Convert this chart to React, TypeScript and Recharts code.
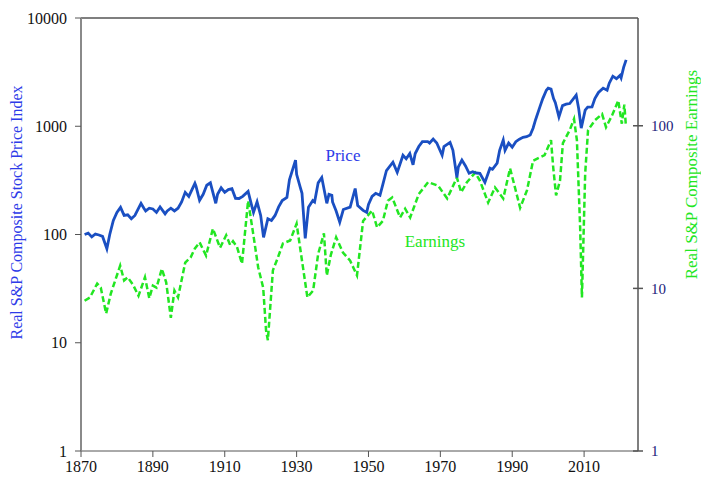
import React from "react";
import { LineChart, Line, XAxis, YAxis, ReferenceLine, ReferenceDot } from "recharts";

// Real S&P composite price index (left axis, log)
const priceYears = [
  1871, 1872, 1873, 1874, 1875, 1876, 1877.2, 1878, 1879, 1880, 1881, 1882, 1883, 1884, 1885, 1886.7, 1887.5, 1888, 1889, 1890,
  1891, 1892, 1893.4, 1894, 1895, 1896, 1897, 1898, 1899, 1900, 1901.7, 1902, 1903, 1904, 1905, 1906, 1907.5, 1908, 1909, 1910,
  1911, 1912, 1913, 1914, 1915, 1916.5, 1917.5, 1918, 1919, 1920, 1920.8, 1922, 1923, 1924, 1925, 1926, 1927.3, 1928, 1929.7, 1930,
  1931, 1931.5, 1932.4, 1933.3, 1934.5, 1935, 1936, 1937, 1938.4, 1939, 1939.8, 1940, 1941, 1942, 1943, 1944.9, 1946.3, 1947, 1948.5, 1949.5,
  1950, 1951, 1952, 1953.2, 1954, 1955, 1956.8, 1958, 1959.6, 1960.5, 1961.5, 1962.4, 1963, 1964, 1965, 1966.5, 1967, 1968, 1969, 1970.5,
  1971, 1972.7, 1973.5, 1974.6, 1975, 1976, 1977, 1978, 1979, 1980, 1981, 1982.4, 1983.8, 1984.5, 1985.8, 1986.5, 1987.5, 1988, 1989, 1990,
  1991, 1992, 1993, 1994, 1995, 1995.8, 1996.5, 1997.7, 1998.5, 1999.5, 2000, 2000.8, 2001.5, 2002, 2003, 2004, 2005, 2006, 2007.8, 2008.5,
  2009.2, 2010.3, 2011, 2012.2, 2013, 2014, 2015.3, 2016.4, 2017, 2018, 2019, 2020, 2020.3, 2021, 2021.7,
];
const priceValues = [
  100, 103, 95, 101, 99, 96, 74, 100, 135, 160, 178, 150, 152, 140, 150, 194, 175, 165, 175, 172,
  160, 180, 155, 165, 175, 165, 175, 200, 245, 225, 297, 280, 207, 235, 285, 300, 194, 235, 270, 245,
  260, 265, 216, 215, 225, 250, 185, 160, 200, 150, 94, 140, 135, 150, 180, 206, 220, 320, 487, 360,
  274, 240, 92, 179, 206, 200, 300, 336, 194, 235, 230, 200, 165, 130, 170, 179, 266, 185, 167, 160,
  190, 225, 240, 230, 290, 390, 465, 375, 540, 500, 560, 440, 560, 650, 720, 720, 700, 760, 700, 540,
  650, 710, 600, 336, 420, 487, 430, 368, 380, 370, 368, 303, 410, 400, 457, 600, 745, 600, 700, 640,
  720, 760, 790, 800, 830, 960, 1150, 1510, 1800, 2150, 2250, 2200, 1800, 1650, 1220, 1550, 1600, 1620, 1940, 1450,
  960, 1410, 1500, 1510, 1800, 2050, 2250, 2150, 2500, 2900, 2750, 2950, 2800, 3500, 4100,
];

// Real S&P composite earnings (right axis, log)
const earningsYears = [
  1871, 1872.5, 1874.5, 1875.5, 1877, 1878.3, 1880.9, 1882, 1883, 1884.5, 1886, 1887.8, 1889, 1890, 1891, 1892.5, 1893.7, 1895, 1896, 1897,
  1899, 1900.5, 1901.7, 1903, 1904.8, 1906.7, 1908.7, 1910.4, 1911.5, 1912.3, 1913.4, 1914.8, 1916.5, 1917.9, 1919.3, 1920.7, 1921.5, 1922, 1923.4, 1924.8,
  1926.2, 1928.2, 1930, 1931.5, 1933, 1934.6, 1936, 1937.6, 1938.4, 1939.5, 1941, 1942.9, 1944.9, 1946.8, 1948.5, 1951, 1952.4, 1954, 1955.4, 1956.6,
  1958.8, 1960.2, 1961.6, 1964, 1966.6, 1969.4, 1971.9, 1974.6, 1975.8, 1977.4, 1979.7, 1981, 1983.3, 1985.2, 1987.5, 1989.4, 1992.2, 1994.1, 1995.8, 1997.7,
  1999, 2000.8, 2001.4, 2002.2, 2003.3, 2004.1, 2006, 2007.2, 2008, 2008.9, 2009.4, 2010.3, 2011.1, 2013, 2015, 2016.1, 2017.8, 2019.5, 2020.5, 2021.2,
  2021.6,
];
const earningsValues = [
  8.4, 8.8, 10.7, 10.1, 7.0, 9.3, 13.8, 11.2, 11.7, 10.5, 9.0, 11.7, 8.7, 10.4, 10.1, 13.2, 10.9, 6.6, 9.7, 8.8,
  14.4, 15.5, 17.6, 19.2, 15.9, 23.3, 17.8, 21.2, 18.5, 19.5, 18, 14.2, 34.6, 21.8, 13.5, 10.1, 5.5, 4.8, 12.9, 15.5,
  18.9, 19.7, 25, 14.8, 8.8, 9.7, 16.3, 21.8, 12.0, 16, 20.6, 16.6, 14.8, 12.0, 26, 30.1, 23.7, 26, 34.6, 36.2,
  27.3, 30.9, 27.3, 38, 45, 42.8, 35.7, 48, 39, 45, 51.5, 46, 33.7, 41.7, 35.7, 54.7, 31.3, 40, 61, 64,
  66, 81.5, 55.6, 37.3, 46, 78.2, 94, 110, 81.5, 23.7, 8.8, 50.7, 94, 108, 118, 98, 116, 143, 103, 135,
  102,
];

const yearTicks = [1870, 1890, 1910, 1930, 1950, 1970, 1990, 2010];
const priceTicks = [1, 10, 100, 1000, 10000];
const earningsTicks = [1, 10, 100];

const priceData = priceYears.map((year, i) => ({ year, price: priceValues[i] }));
const earningsData = earningsYears.map((year, i) => ({ year, earnings: earningsValues[i] }));

const FONT = "'Liberation Serif', 'Times New Roman', serif";
const BLUE = "#1a4fc2";
const GREEN = "#22e622";

const RightTick = (props: any) => {
  const { x, y, payload } = props;
  return (
    <g>
      <line x1={x - 5} x2={x + 5} y1={y} y2={y} stroke="#555" strokeWidth={1.5} />
      <text x={x + 13} y={y} dy="0.35em" fill="#1c1c7a" fontSize={15} fontFamily={FONT}>
        {payload.value}
      </text>
    </g>
  );
};

export default function App() {
  return (
    <div style={{ width: 701, height: 477, fontFamily: FONT }}>
      <style>{`body{margin:0} .recharts-text{font-family:${FONT}}`}</style>
      <LineChart width={701} height={477} margin={{ top: 18, right: 0, bottom: 0, left: 0 }}>
        <XAxis
          dataKey="year"
          type="number"
          domain={[1870, 2025]}
          ticks={yearTicks}
          allowDataOverflow
          height={26}
          stroke="#555"
          tickSize={6}
          tickMargin={4}
          tick={{ fill: "#111", fontSize: 16, fontFamily: FONT }}
        />
        <YAxis
          yAxisId="left"
          scale="log"
          domain={[1, 10000]}
          ticks={priceTicks}
          allowDataOverflow
          width={81}
          axisLine={{ stroke: "#8a8a8a", strokeWidth: 2 }}
          tickLine={{ stroke: "#555" }}
          tickSize={6}
          tickMargin={8}
          tick={{ fill: "#111", fontSize: 16, fontFamily: FONT }}
          label={{
            value: "Real S&P Composite Stock Price Index",
            angle: -90,
            position: "insideLeft",
            offset: 16,
            dy: -22,
            style: { fill: "#2d3be8", fontSize: 16, fontFamily: FONT, textAnchor: "middle" },
          }}
        />
        <YAxis
          yAxisId="right"
          orientation="right"
          scale="log"
          domain={[1, 460]}
          ticks={earningsTicks}
          allowDataOverflow
          width={63}
          axisLine={{ stroke: "#555", strokeWidth: 1.5 }}
          tickLine={false}
          tickSize={0}
          tickMargin={0}
          tick={<RightTick />}
          label={{
            value: "Real S&P Composite Earnings",
            angle: -90,
            position: "insideRight",
            offset: 10,
            dy: -60,
            style: { fill: GREEN, fontSize: 17, fontFamily: FONT, textAnchor: "middle" },
          }}
        />
        <ReferenceLine yAxisId="left" y={10000} stroke="#555" strokeWidth={1.5} />
        <Line
          yAxisId="right"
          data={earningsData}
          dataKey="earnings"
          type="linear"
          stroke={GREEN}
          strokeWidth={2.5}
          strokeDasharray="6 3"
          dot={false}
          isAnimationActive={false}
        />
        <Line
          yAxisId="left"
          data={priceData}
          dataKey="price"
          type="linear"
          stroke={BLUE}
          strokeWidth={2.8}
          dot={false}
          isAnimationActive={false}
        />
        <ReferenceDot
          yAxisId="left"
          x={1942.9}
          y={541}
          r={0}
          label={{ value: "Price", position: "center", fill: "#2d3be8", fontSize: 17, fontFamily: FONT }}
        />
        <ReferenceDot
          yAxisId="right"
          x={1968.5}
          y={19.7}
          r={0}
          label={{ value: "Earnings", position: "center", fill: GREEN, fontSize: 17, fontFamily: FONT }}
        />
      </LineChart>
    </div>
  );
}
